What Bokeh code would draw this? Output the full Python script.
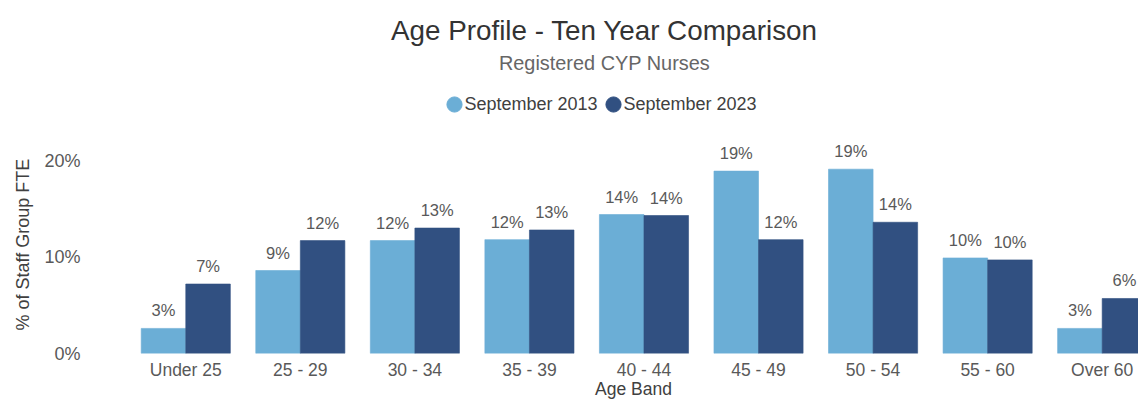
import numpy as np
from bokeh.plotting import figure
from bokeh.models import (Range1d, FixedTicker, PrintfTickFormatter, ColumnDataSource,
                          Title, Label, Legend, LegendItem)
from bokeh.embed import file_html
from bokeh.resources import INLINE
from bokeh.core.properties import value

# ---- data ----
categories = ["Under 25", "25 - 29", "30 - 34", "35 - 39", "40 - 44",
              "45 - 49", "50 - 54", "55 - 60", "Over 60"]
series_names = ["September 2013", "September 2023"]
sep_2013 = [2.6, 8.6, 11.7, 11.8, 14.4, 18.9, 19.1, 9.9, 2.6]
sep_2023 = [7.2, 11.7, 13.0, 12.8, 14.3, 11.8, 13.6, 9.7, 5.7]
y_ticks = [0, 10, 20]

title_text = "Age Profile - Ten Year Comparison"
subtitle_text = "Registered CYP Nurses"
x_label = "Age Band"
y_label = "% of Staff Group FTE"

# ---- style / layout ----
colors = ["#6BAED6", "#315081"]
FONT = "Liberation Sans"
W, H = 1138, 401
FB = 353          # frame bottom (px from top)
FL = 128          # frame left (px)
SCALE = 9.65      # px per percent
CAT_PX = 114.55   # px per category

p = figure(width=W, height=H, output_backend="svg", toolbar_location=None,
           x_range=Range1d(0, (W - FL) / CAT_PX), y_range=Range1d(0, FB / SCALE),
           min_border_left=FL, min_border_right=0,
           min_border_top=0, min_border_bottom=H - FB)
p.outline_line_color = None
p.grid.visible = False
p.background_fill_color = "white"
p.border_fill_color = "white"

centers = np.arange(len(categories)) + 0.5
bw = 0.389
src = ColumnDataSource(dict(
    x13=centers - bw / 2, x23=centers + bw / 2,
    v13=sep_2013, v23=sep_2023,
    l13=[f"{round(v)}%" for v in sep_2013],
    l23=[f"{round(v)}%" for v in sep_2023],
))

p.vbar(x="x13", top="v13", width=bw, source=src,
       fill_color=colors[0], line_color=colors[0], line_alpha=0.6)
p.vbar(x="x23", top="v23", width=bw, source=src,
       fill_color=colors[1], line_color=colors[1], line_alpha=0.6)

for xs, ys, ls in (("x13", "v13", "l13"), ("x23", "v23", "l23")):
    p.text(x=xs, y=ys, text=ls, source=src, text_align="center",
           text_baseline="middle", y_offset=-18,
           text_font=value(FONT), text_font_size="16.5px", text_color="#595959")

# axes
xa = p.xaxis[0]
xa.ticker = FixedTicker(ticks=list(centers))
xa.major_label_overrides = {float(c): n for c, n in zip(centers, categories)}
xa.axis_line_color = None
xa.major_tick_line_color = None
xa.minor_tick_line_color = None
xa.major_tick_out = 0
xa.major_tick_in = 0
xa.minor_tick_out = 0
xa.major_label_standoff = 6
xa.major_label_text_font = FONT
xa.major_label_text_font_size = "17.5px"
xa.major_label_text_color = "#595959"
xa.axis_label = x_label
xa.axis_label_standoff = -4
xa.axis_label_text_font = FONT
xa.axis_label_text_font_size = "17.5px"
xa.axis_label_text_font_style = "normal"
xa.axis_label_text_color = "#404040"

ya = p.yaxis[0]
ya.ticker = FixedTicker(ticks=y_ticks)
ya.formatter = PrintfTickFormatter(format="%d%%")
ya.axis_line_color = None
ya.major_tick_line_color = None
ya.minor_tick_line_color = None
ya.major_tick_out = 0
ya.major_tick_in = 0
ya.minor_tick_out = 0
ya.major_label_standoff = 48
ya.major_label_text_font = FONT
ya.major_label_text_font_size = "18px"
ya.major_label_text_color = "#595959"

# y-axis title placed in the left panel
p.add_layout(Title(text=y_label, align="left", offset=FB - 330, standoff=18,
                   text_font=FONT, text_font_size="18px", text_font_style="normal",
                   text_color="#404040"), "left")

def to_frame(px, py):
    return px - FL, FB - py

tx, ty = to_frame(604, 30)
p.add_layout(Label(x=tx, y=ty, x_units="screen", y_units="screen", text=title_text,
                   text_align="center", text_baseline="middle",
                   text_font=FONT, text_font_size="27.8px", text_color="#333333"))
sx, sy = to_frame(604, 62)
p.add_layout(Label(x=sx, y=sy, x_units="screen", y_units="screen", text=subtitle_text,
                   text_align="center", text_baseline="middle",
                   text_font=FONT, text_font_size="19.9px", text_color="#666666"))

# legend: circle markers (legend-only renderers) + series names as text
legend_dot_x = [454, 613]
legend_text_x = [464, 623]
for name, col, dx, tx_ in zip(series_names, colors, legend_dot_x, legend_text_x):
    r = p.scatter(x=[np.nan], y=[np.nan], marker="circle", fill_color=col, line_color=col)
    lx, ly = to_frame(dx - 19, 123)
    p.add_layout(Legend(items=[LegendItem(label=value(""), renderers=[r])],
                        orientation="horizontal", location=(lx, ly),
                        glyph_width=38, glyph_height=38, label_standoff=0,
                        label_width=0, label_height=0, spacing=0,
                        padding=0, margin=0, border_line_color=None,
                        background_fill_alpha=0), "center")
    nx, ny = to_frame(tx_, 103.5)
    p.add_layout(Label(x=nx, y=ny, x_units="screen", y_units="screen", text=name,
                       text_align="left", text_baseline="middle",
                       text_font=FONT, text_font_size="18px", text_color="#404040"))

open("out.html", "w").write(file_html(p, INLINE))
